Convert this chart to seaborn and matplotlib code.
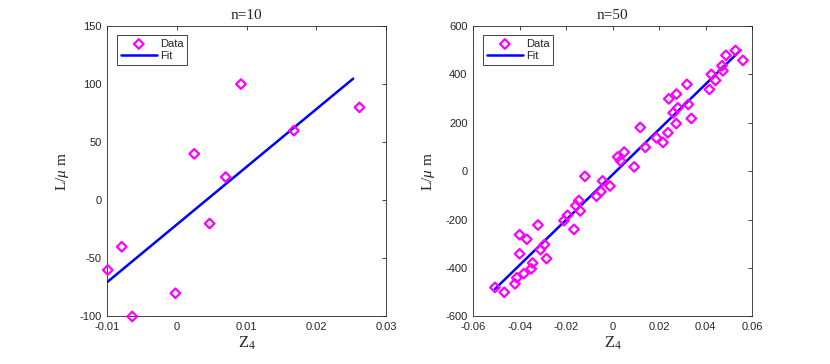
import numpy as np
import pandas as pd
import matplotlib
matplotlib.use("Agg")
import matplotlib.pyplot as plt
import seaborn as sns

# dados
z4_n10 = [-0.0099, -0.0079, -0.0064, -0.0002, 0.0025, 0.0047, 0.0070, 0.0092, 0.0168, 0.0262]
L_n10 = [-60, -40, -100, -80, 40, -20, 20, 100, 60, 80]
fit_range_n10 = [-0.0100, 0.0253]

z4_n50 = [-0.0506, -0.0466, -0.0420, -0.0412, -0.0400, -0.0400, -0.0382, -0.0369, -0.0350, -0.0344,
          -0.0321, -0.0310, -0.0293, -0.0284, -0.0209, -0.0194, -0.0166, -0.0158, -0.0145, -0.0139,
          -0.0119, -0.0069, -0.0050, -0.0043, -0.0011, 0.0022, 0.0034, 0.0050, 0.0093, 0.0119,
          0.0141, 0.0189, 0.0217, 0.0238, 0.0242, 0.0261, 0.0274, 0.0275, 0.0281, 0.0320,
          0.0326, 0.0339, 0.0417, 0.0425, 0.0443, 0.0471, 0.0475, 0.0488, 0.0529, 0.0561]
L_n50 = [-480, -500, -465, -440, -341, -262, -423, -281, -403, -379,
         -222, -324, -303, -361, -204, -182, -240, -142, -121, -164,
         -21, -103, -84, -40, -61, 59, 43, 79, 18, 181,
         99, 138, 119, 159, 299, 241, 197, 319, 262, 359,
         276, 218, 338, 400, 375, 436, 415, 479, 499, 458]
fit_range_n50 = [-0.0506, 0.0551]

titulos = ["n=10", "n=50"]
xticks = [np.arange(-0.01, 0.031, 0.01), np.arange(-0.06, 0.061, 0.02)]
yticks = [np.arange(-100, 151, 50), np.arange(-600, 601, 200)]
xlims = [(-0.01, 0.03), (-0.06, 0.06)]
ylims = [(-100, 150), (-600, 600)]

sns.set_style("white")
plt.rcParams["font.family"] = ["Liberation Sans", "DejaVu Sans"]
plt.rcParams["mathtext.fontset"] = "custom"
plt.rcParams["mathtext.rm"] = "Liberation Serif"
plt.rcParams["mathtext.it"] = "Liberation Serif:italic"

fig = plt.figure(figsize=(8.3, 3.64), dpi=100)
eixos = [fig.add_axes([0.129, 0.1305, 0.336, 0.798]),
         fig.add_axes([0.570, 0.1305, 0.336, 0.798])]

conjuntos = [(z4_n10, L_n10, fit_range_n10), (z4_n50, L_n50, fit_range_n50)]

for i, (ax, (x, y, fr)) in enumerate(zip(eixos, conjuntos)):
    df = pd.DataFrame({"Z4": x, "L": y})
    coef = np.polyfit(df["Z4"], df["L"], 1)
    fit = pd.DataFrame({"Z4": fr, "L": np.polyval(coef, fr)})

    sns.scatterplot(data=df, x="Z4", y="L", ax=ax, marker="D", s=24,
                    facecolor="none", edgecolor="#ff00ff", linewidth=1.6,
                    label="Data", zorder=3, clip_on=False)
    sns.lineplot(data=fit, x="Z4", y="L", ax=ax, color="#0000ff", linewidth=1.8,
                 label="Fit", zorder=2)

    ax.set_xlim(xlims[i])
    ax.set_ylim(ylims[i])
    ax.set_xticks(xticks[i])
    ax.set_yticks(yticks[i])
    ax.set_xticklabels([f"{v:g}" if abs(v) > 1e-9 else "0" for v in xticks[i]])
    ax.set_yticklabels([f"{int(round(v))}" for v in yticks[i]])
    ax.tick_params(direction="in", length=3, width=0.6, top=True, right=True,
                   labelsize=8, colors="#262626", pad=4)
    for sp in ax.spines.values():
        sp.set_visible(True)
        sp.set_color("#262626")
        sp.set_linewidth(0.6)

    ax.set_title(titulos[i], fontfamily="Liberation Serif", fontsize=11, pad=5)
    ax.set_xlabel("Z$_4$", fontfamily="Liberation Serif", fontsize=12, labelpad=2)
    ax.set_ylabel("L/$\\mu$ m", fontfamily="Liberation Serif", fontsize=11, labelpad=6)

    leg = ax.legend(loc="upper left", fontsize=8, frameon=True, fancybox=False,
                    framealpha=1, edgecolor="#262626", borderpad=0.35,
                    handlelength=3.2, handletextpad=0.3, labelspacing=0.2,
                    borderaxespad=0, bbox_to_anchor=(0.036, 0.969))
    leg.get_frame().set_linewidth(0.6)

fig.savefig("out.png", dpi=100)
